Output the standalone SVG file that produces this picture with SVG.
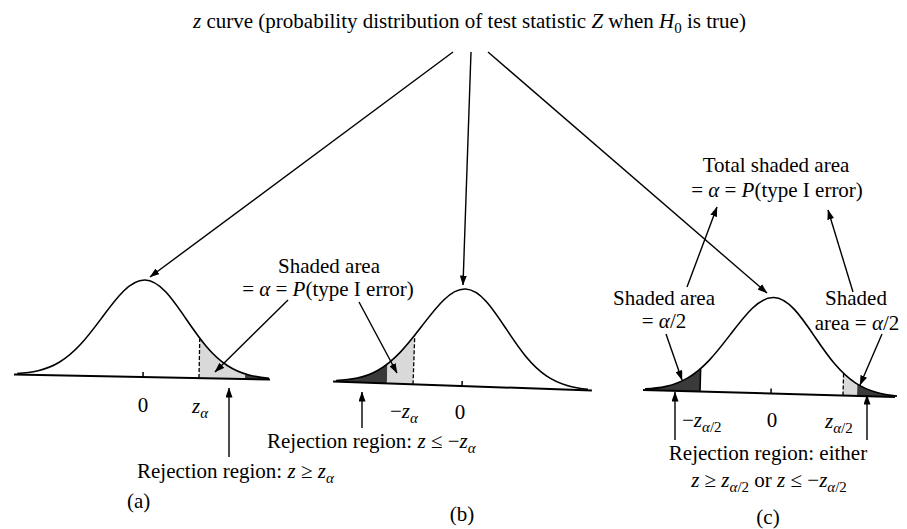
<svg xmlns="http://www.w3.org/2000/svg" xmlns:xlink="http://www.w3.org/1999/xlink" width="907" height="529" viewBox="0 0 907 529">
<style>
.t{font-family:"Liberation Serif","Times New Roman",serif;font-size:21px;fill:#000}
.i{font-style:italic}
.m{text-anchor:middle}
.s{font-size:15px}
.conn line{stroke:#000;stroke-width:1.4;marker-end:url(#ah)}
.base{stroke:#000;stroke-width:2}
.tick{stroke:#000;stroke-width:1.5}
.dash{stroke:#000;stroke-width:1.3;stroke-dasharray:4 2}
.solid{stroke:#000;stroke-width:1.5}
.light{fill:#d9d9d9}
.dark{fill:#3a3a3a}
</style>
<defs>
<marker id="ah" viewBox="0 0 10 7" refX="9.5" refY="3.5" markerWidth="10" markerHeight="7" markerUnits="userSpaceOnUse" orient="auto"><path d="M0,0 L10,3.5 L0,7 z" fill="#000"/></marker>
<path id="gcurve" fill="none" stroke="#000" stroke-width="1.6" vector-effect="non-scaling-stroke" d="M-3,-0.0111 C-2.8333,-0.0167 -2.6667,-0.0256 -2.5,-0.0439 C-2.3333,-0.0622 -2.1667,-0.0902 -2,-0.1353 C-1.8333,-0.1804 -1.6667,-0.2435 -1.5,-0.3247 C-1.3333,-0.4059 -1.1667,-0.5054 -1,-0.6065 C-0.8333,-0.7076 -0.6667,-0.809 -0.5,-0.8825 C-0.3333,-0.956 -0.1667,-1 0,-1 C0.1667,-1 0.3333,-0.956 0.5,-0.8825 C0.6667,-0.809 0.8333,-0.7076 1,-0.6065 C1.1667,-0.5054 1.3333,-0.4059 1.5,-0.3247 C1.6667,-0.2435 1.8333,-0.1804 2,-0.1353 C2.1667,-0.0902 2.3333,-0.0622 2.5,-0.0439 C2.6667,-0.0256 2.8333,-0.0167 3,-0.0111"/>
<path id="garea" d="M-3,0 L-3,-0.0111 C-2.8333,-0.0167 -2.6667,-0.0256 -2.5,-0.0439 C-2.3333,-0.0622 -2.1667,-0.0902 -2,-0.1353 C-1.8333,-0.1804 -1.6667,-0.2435 -1.5,-0.3247 C-1.3333,-0.4059 -1.1667,-0.5054 -1,-0.6065 C-0.8333,-0.7076 -0.6667,-0.809 -0.5,-0.8825 C-0.3333,-0.956 -0.1667,-1 0,-1 C0.1667,-1 0.3333,-0.956 0.5,-0.8825 C0.6667,-0.809 0.8333,-0.7076 1,-0.6065 C1.1667,-0.5054 1.3333,-0.4059 1.5,-0.3247 C1.6667,-0.2435 1.8333,-0.1804 2,-0.1353 C2.1667,-0.0902 2.3333,-0.0622 2.5,-0.0439 C2.6667,-0.0256 2.8333,-0.0167 3,-0.0111 L3,0 Z"/>
<clipPath id="cAl"><rect x="1.33" y="-1.2" width="2" height="1.3"/></clipPath>
<clipPath id="cAd"><rect x="2.43" y="-1.2" width="1" height="1.3"/></clipPath>
<clipPath id="cBd"><rect x="-3.2" y="-1.2" width="1.41" height="1.3"/></clipPath>
<clipPath id="cBl"><rect x="-1.79" y="-1.2" width="0.62" height="1.3"/></clipPath>
<clipPath id="cCd1"><rect x="-3.2" y="-1.2" width="1.51" height="1.3"/></clipPath>
<clipPath id="cCl"><rect x="1.71" y="-1.2" width="0.34" height="1.3"/></clipPath>
<clipPath id="cCd2"><rect x="2.05" y="-1.2" width="1.2" height="1.3"/></clipPath>
</defs>
<rect width="907" height="529" fill="#fff"/>

<g id="title">
<text class="t" x="193" y="28"><tspan class="i">z</tspan> curve (probability distribution of test statistic <tspan class="i">Z</tspan> when <tspan class="i">H</tspan><tspan class="s" dy="5">0</tspan><tspan dy="-5"> is true)</tspan></text>
</g>

<g id="curve-a" transform="translate(143,377) rotate(1.1)">
<g transform="scale(42,97)">
<use xlink:href="#garea" class="light" clip-path="url(#cAl)"/>
<use xlink:href="#garea" class="dark" clip-path="url(#cAd)"/>
<use xlink:href="#gcurve"/>
</g>
<line class="base" x1="-129" y1="0" x2="127" y2="0"/>
<line class="tick" x1="0" y1="0" x2="0" y2="-5"/>
<line class="dash" x1="56" y1="0" x2="56" y2="-40"/>
</g>

<g id="curve-b" transform="translate(462,386) rotate(2)">
<g transform="scale(42,97)">
<use xlink:href="#garea" class="dark" clip-path="url(#cBd)"/>
<use xlink:href="#garea" class="light" clip-path="url(#cBl)"/>
<use xlink:href="#gcurve"/>
</g>
<line class="base" x1="-129" y1="0" x2="130" y2="0"/>
<line class="tick" x1="0" y1="0" x2="0" y2="-5"/>
<line class="dash" x1="-49" y1="0" x2="-49" y2="-49"/>
</g>

<g id="curve-c" transform="translate(771,393.5) rotate(1.6)">
<g transform="scale(42,96)">
<use xlink:href="#garea" class="dark" clip-path="url(#cCd1)"/>
<use xlink:href="#garea" class="light" clip-path="url(#cCl)"/>
<use xlink:href="#garea" class="dark" clip-path="url(#cCd2)"/>
<use xlink:href="#gcurve"/>
</g>
<line class="base" x1="-128" y1="0" x2="124" y2="0"/>
<line class="tick" x1="0" y1="0" x2="0" y2="-5"/>
<line class="solid" x1="-71" y1="0" x2="-71" y2="-23"/>
<line class="dash" x1="72" y1="0" x2="72" y2="-22"/>
</g>

<g id="labels-a">
<text class="t m" x="329" y="273">Shaded area</text>
<text class="t m" x="328" y="296">= <tspan class="i">α</tspan> = <tspan class="i">P</tspan>(type I error)</text>
<text class="t m" x="143" y="412">0</text>
<text class="t" x="192" y="413"><tspan class="i">z</tspan><tspan class="s i" dy="5">α</tspan></text>
<text class="t" x="137" y="478">Rejection region: <tspan class="i">z</tspan> ≥ <tspan class="i">z</tspan><tspan class="s i" dy="5">α</tspan></text>
<text class="t" x="127" y="508">(a)</text>
</g>

<g id="labels-b">
<text class="t" x="390" y="418">−<tspan class="i">z</tspan><tspan class="s i" dy="5">α</tspan></text>
<text class="t m" x="460" y="419">0</text>
<text class="t" x="267" y="448">Rejection region: <tspan class="i">z</tspan> ≤ −<tspan class="i">z</tspan><tspan class="s i" dy="5">α</tspan></text>
<text class="t m" x="462" y="521">(b)</text>
</g>

<g id="labels-c">
<text class="t m" x="776" y="172">Total shaded area</text>
<text class="t m" x="777" y="197">= <tspan class="i">α</tspan> = <tspan class="i">P</tspan>(type I error)</text>
<text class="t m" x="664" y="305">Shaded area</text>
<text class="t m" x="664" y="328">= <tspan class="i">α</tspan>/2</text>
<text class="t m" x="856" y="305">Shaded</text>
<text class="t m" x="857" y="330">area = <tspan class="i">α</tspan>/2</text>
<text class="t" x="682" y="427">−<tspan class="i">z</tspan><tspan class="s" dy="5"><tspan class="i">α</tspan>/2</tspan></text>
<text class="t m" x="772" y="427">0</text>
<text class="t" x="825" y="428"><tspan class="i">z</tspan><tspan class="s" dy="5"><tspan class="i">α</tspan>/2</tspan></text>
<text class="t m" x="768" y="460">Rejection region: either</text>
<text class="t m" x="769" y="487"><tspan class="i">z</tspan> ≥ <tspan class="i">z</tspan><tspan class="s" dy="5"><tspan class="i">α</tspan>/2</tspan><tspan dy="-5"> or </tspan><tspan class="i">z</tspan> ≤ −<tspan class="i">z</tspan><tspan class="s" dy="5"><tspan class="i">α</tspan>/2</tspan></text>
<text class="t m" x="768" y="524">(c)</text>
</g>

<g id="connectors" class="conn">
<line x1="453" y1="52" x2="150" y2="277"/>
<line x1="471" y1="52" x2="463" y2="285"/>
<line x1="488" y1="52" x2="767" y2="293"/>
<line x1="288" y1="300" x2="215" y2="372"/>
<line x1="359" y1="302" x2="397" y2="373"/>
<line x1="229" y1="457" x2="229" y2="388"/>
<line x1="362" y1="428" x2="362" y2="392"/>
<line x1="675" y1="440" x2="675" y2="392"/>
<line x1="867" y1="440" x2="867" y2="395"/>
<line x1="666" y1="334" x2="682" y2="380"/>
<line x1="882" y1="334" x2="860" y2="385"/>
<line x1="687" y1="287" x2="717" y2="207"/>
<line x1="853" y1="292" x2="828" y2="210"/>
</g>
</svg>
